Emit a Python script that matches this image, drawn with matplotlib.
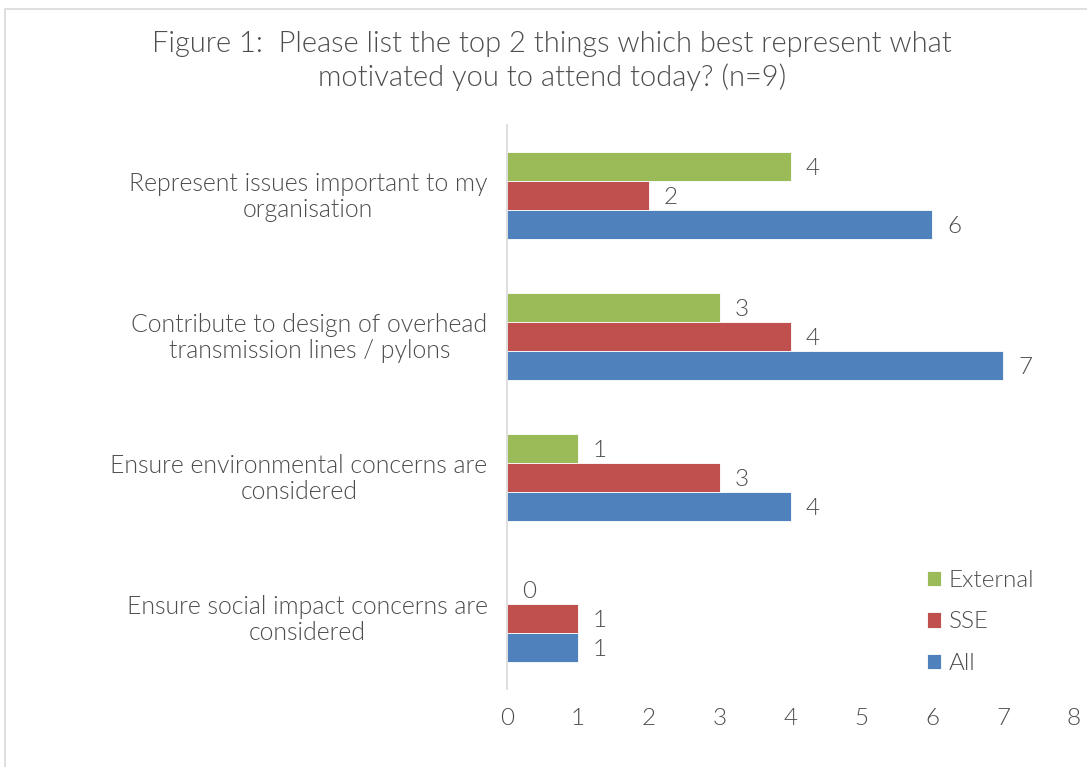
import numpy as np
import matplotlib.pyplot as plt
import matplotlib.transforms as mtransforms
from matplotlib.patches import Rectangle

categories = [
    "Represent issues important to my\norganisation",
    "Contribute to design of overhead\ntransmission lines / pylons",
    "Ensure environmental concerns are\nconsidered",
    "Ensure social impact concerns are\nconsidered",
]
external = [4, 3, 1, 0]
sse = [2, 4, 3, 1]
all_resp = [6, 7, 4, 1]

series = [("External", external, "#9bbb59"),
          ("SSE", sse, "#c0504d"),
          ("All", all_resp, "#4f81bd")]

plt.rcParams['font.family'] = ['Lato', 'DejaVu Sans']
grey = "#4d4d4d"
fs = 17.5
wt = 300

fig = plt.figure(figsize=(10.87, 7.67), dpi=100)
fig.patches.append(Rectangle((5 / 1087, -0.01), 1.02, 1 - 9 / 767 + 0.01,
                             transform=fig.transFigure, fill=False,
                             edgecolor="#d9d9d9", linewidth=1.2))
ax = fig.add_axes([507 / 1087, 1 - 689 / 767, (1074 - 507) / 1087, 564 / 767])

y = np.arange(len(categories))
h = 0.205
for k, (name, vals, col) in enumerate(series):
    pos = y + (k - 1) * h
    bars = ax.barh(pos, vals, height=h, color=col, label=name,
                   edgecolor="white", linewidth=0.6)
    for b, v in zip(bars, vals):
        ax.annotate(str(v), (v, b.get_y() + b.get_height() / 2),
                    xytext=(22, -2), textcoords="offset pixels",
                    ha="center", va="center", fontsize=fs, color=grey,
                    fontweight=wt)

ax.set_xlim(0, 8)
ax.set_ylim(3.5, -0.5)
ax.set_xticks(range(9))
ax.set_yticks(y)
ax.set_yticklabels(categories, fontsize=17.9, color=grey, ha="right",
                   multialignment="center", linespacing=1.12, fontweight=wt)
ax.tick_params(axis="y", length=0, pad=14)
ax.tick_params(axis="x", length=0, labelsize=fs, labelcolor=grey, pad=14)
lift = mtransforms.ScaledTranslation(0, 2 / 100, fig.dpi_scale_trans)
for lbl in ax.get_yticklabels():
    lbl.set_transform(lbl.get_transform() + lift)
for lbl in ax.get_xticklabels():
    lbl.set_fontweight(wt)
for s in ["top", "right", "bottom"]:
    ax.spines[s].set_visible(False)
ax.spines["left"].set_color("#d9d9d9")
ax.spines["left"].set_linewidth(1.2)

handles, labels = ax.get_legend_handles_labels()
leg = ax.legend(handles, labels, loc="lower left",
                bbox_to_anchor=(905 / 1087, 1 - 696 / 767),
                bbox_transform=fig.transFigure, frameon=False,
                handlelength=0.6, handleheight=0.6, handletextpad=0.3,
                labelspacing=0.85, fontsize=fs)
for t in leg.get_texts():
    t.set_color(grey)
    t.set_fontweight(wt)

fig.text(552 / 1087, 1 - 61 / 767,
         "Figure 1:  Please list the top 2 things which best represent what\n"
         "motivated you to attend today? (n=9)",
         ha="center", va="center", fontsize=21, color=grey,
         fontweight=wt, linespacing=1.3)

fig.savefig("out.png", dpi=100, facecolor="white")
